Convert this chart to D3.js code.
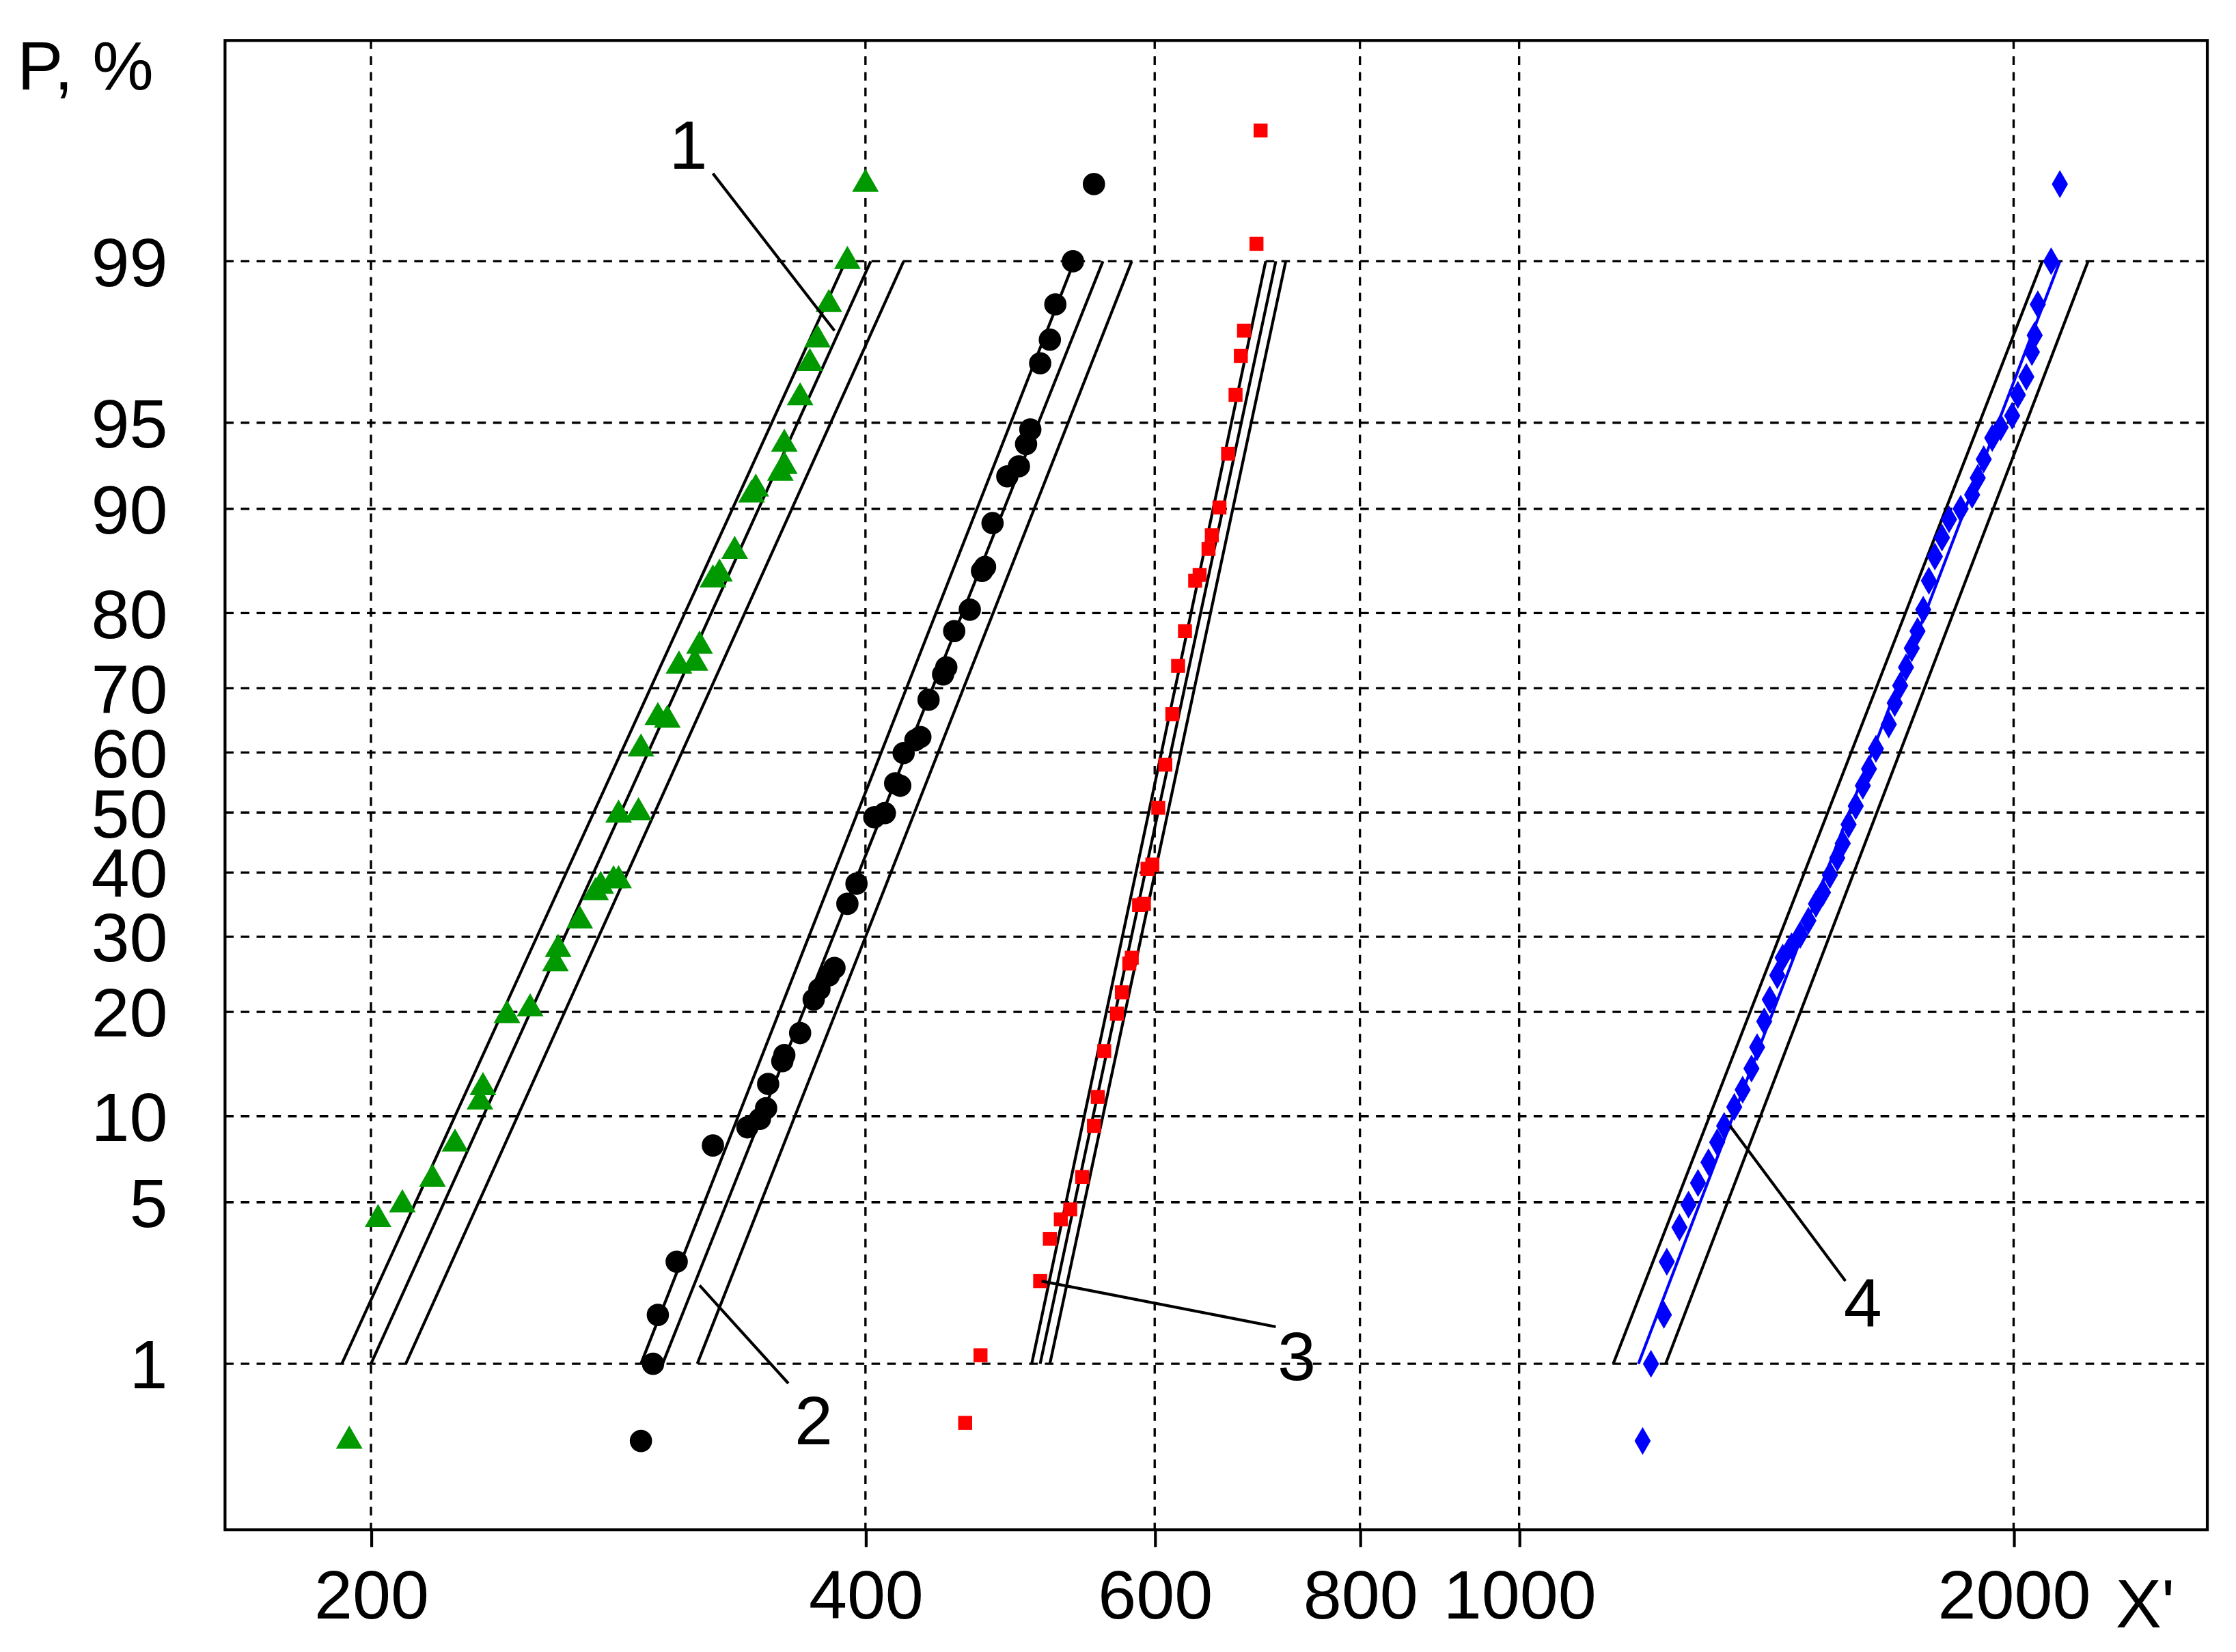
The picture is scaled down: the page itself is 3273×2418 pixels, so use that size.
<!DOCTYPE html>
<html>
<head>
<meta charset="utf-8">
<script src="https://cdn.jsdelivr.net/npm/d3@7"></script>
<style>
  html, body { margin: 0; padding: 0; background: #fff; }
  text { font-family: "Liberation Sans", Arial, sans-serif; fill: #000; }
</style>
</head>
<body>
<div id="chart"></div>
<script>
// probability ticks (%) and x ticks
const probTicks = [1, 5, 10, 20, 30, 40, 50, 60, 70, 80, 90, 95, 99]
const xTicks = [200, 400, 600, 800, 1000, 2000]

// series 1 (green triangles)
const s1X = [194, 202, 209, 218, 225, 233, 234, 242, 250, 259, 260, 268, 274, 276, 281, 283, 283, 291, 292, 299, 303, 308, 315, 317, 323, 326, 333, 341, 343, 355, 357, 357, 365, 370, 374, 380, 390, 400]
const s1P = [0.4, 4.3, 4.9, 6.1, 8.1, 11.1, 12.3, 19.6, 20.4, 26.2, 28.2, 32.4, 36.8, 37.8, 38.7, 38.7, 49.6, 50, 60.6, 65.6, 65.2, 73.2, 73.6, 75.9, 83.7, 84.3, 86.5, 91.0, 91.4, 92.4, 92.8, 94.0, 96.0, 97.1, 97.7, 98.4, 99.0, 99.6]
// series 2 (black circles)
const s2X = [292, 297, 299, 307, 323, 339, 345, 348, 349, 356, 357, 365, 372, 375, 380, 383, 390, 395, 405, 411, 417, 420, 422, 429, 432, 437, 446, 448, 453, 463, 471, 473, 478, 488, 496, 501, 504, 511, 518, 522, 535, 551]
const s2P = [0.4, 1.0, 1.7, 2.9, 8.0, 9.2, 9.8, 10.6, 12.6, 14.7, 15.3, 17.6, 21.5, 22.8, 24.6, 25.6, 35.0, 38.2, 49.2, 49.9, 54.9, 54.5, 59.9, 62.0, 62.5, 68.3, 72.0, 73.0, 77.8, 80.4, 84.6, 85.0, 88.9, 92.2, 92.8, 94.0, 94.7, 97.1, 97.7, 98.4, 99.0, 99.6]
// series 3 (red squares)
const s3X = [460, 470, 511, 518, 526, 533, 542, 551, 554, 559, 569, 573, 579, 581, 587, 591, 594, 598, 603, 609, 615, 620, 626, 635, 639, 647, 650, 657, 665, 672, 677, 680, 692, 696]
const s3P = [0.5, 1.1, 2.4, 3.6, 4.3, 4.7, 6.2, 9.3, 11.5, 15.7, 19.8, 22.4, 26.2, 27.0, 34.8, 35.0, 40.6, 41.3, 50.8, 58.0, 66.1, 73.2, 77.8, 83.6, 84.2, 86.7, 87.9, 90.1, 93.5, 96.1, 97.3, 97.9, 99.18, 99.8]
// series 4 (blue diamonds)
const s4X = [1189, 1203, 1225, 1230, 1252, 1268, 1285, 1304, 1320, 1333, 1352, 1368, 1385, 1396, 1410, 1421, 1436, 1447, 1465, 1483, 1500, 1516, 1531, 1546, 1562, 1574, 1587, 1603, 1619, 1633, 1649, 1679, 1693, 1706, 1720, 1734, 1748, 1762, 1776, 1791, 1809, 1827, 1857, 1887, 1902, 1918, 1941, 1964, 1996, 2012, 2036, 2052, 2060, 2069, 2108, 2134]
const s4P = [0.4, 1.0, 1.7, 2.9, 4.0, 4.9, 5.9, 7.0, 8.2, 9.3, 10.7, 12.1, 14.0, 16.1, 18.9, 21.5, 24.6, 27.0, 28.6, 30.3, 32.4, 35.0, 36.8, 39.6, 42.4, 44.8, 48.0, 51.1, 54.5, 57.3, 60.6, 64.5, 67.8, 70.4, 73.0, 75.6, 77.8, 80.4, 83.6, 86.0, 87.7, 89.2, 90.0, 91.0, 92.1, 93.2, 94.3, 94.8, 95.3, 96.1, 96.7, 97.4, 97.8, 98.4, 99.0, 99.6]

// fitted lines and bounds: X at P=1% and P=99% [lower bound, fit, upper bound]
const linesLow = [[192, 200, 210], [292, 301, 316], [505, 511, 518], [1141, 1182, 1228]]
const linesHigh = [[389, 403, 422], [536, 558, 581], [701, 711, 721], [2082, 2134, 2220]]
const lineP = [1, 99]
const curveLabels = ['1', '2', '3', '4']

// inverse normal (Acklam)
function probit(p) {
    const a = [-39.6968302866538, 220.946098424521, -275.928510446969, 138.357751867269, -30.6647980661472, 2.50662827745924]
    const b = [-54.4760987982241, 161.585836858041, -155.698979859887, 66.8013118877197, -13.2806815528857]
    const c = [-0.00778489400243029, -0.322396458041136, -2.40075827716184, -2.54973253934373, 4.37466414146497, 2.93816398269878]
    const d = [0.00778469570904146, 0.32246712907004, 2.445134137143, 3.75440866190742]
    const pl = 0.02425
    let q, r
    if (p < pl) {
        q = Math.sqrt(-2 * Math.log(p))
        return (((((c[0]*q+c[1])*q+c[2])*q+c[3])*q+c[4])*q+c[5]) / ((((d[0]*q+d[1])*q+d[2])*q+d[3])*q+1)
    }
    if (p > 1 - pl) {
        q = Math.sqrt(-2 * Math.log(1 - p))
        return -(((((c[0]*q+c[1])*q+c[2])*q+c[3])*q+c[4])*q+c[5]) / ((((d[0]*q+d[1])*q+d[2])*q+d[3])*q+1)
    }
    q = p - 0.5
    r = q * q
    return (((((a[0]*r+a[1])*r+a[2])*r+a[3])*r+a[4])*r+a[5])*q / (((((b[0]*r+b[1])*r+b[2])*r+b[3])*r+b[4])*r+1)
}

const L = 157, T = 28, R = 1540, B = 1067
const x = d3.scaleLog().domain([163, 2624]).range([L, R])
const z = d3.scaleLinear().domain([-3.027, 3.258]).range([B, T])
const y = p => z(probit(p / 100))

const svg = d3.select('#chart').append('svg')
    .attr('width', 3273).attr('height', 2418)
    .attr('viewBox', '0 0 1560 1152')

// grid
svg.append('g').selectAll('line').data(xTicks).enter().append('line')
    .attr('x1', d => x(d)).attr('x2', d => x(d)).attr('y1', T).attr('y2', B)
    .attr('stroke', '#000').attr('stroke-width', 1.6).attr('stroke-dasharray', '6,5')
svg.append('g').selectAll('line').data(probTicks).enter().append('line')
    .attr('x1', L).attr('x2', R).attr('y1', d => y(d)).attr('y2', d => y(d))
    .attr('stroke', '#000').attr('stroke-width', 1.6).attr('stroke-dasharray', '6,5')

// frame
svg.append('rect').attr('x', L).attr('y', T).attr('width', R - L).attr('height', B - T)
    .attr('fill', 'none').attr('stroke', '#000').attr('stroke-width', 2)

// axes
const xAxis = d3.axisBottom(x).tickValues(xTicks).tickFormat(d3.format('d')).tickSize(12).tickPadding(16)
const gx = svg.append('g').attr('transform', `translate(0,${B})`).call(xAxis)
gx.select('.domain').remove()
gx.selectAll('line').attr('stroke-width', 2)
gx.selectAll('text').style('font-size', '48px')

svg.append('g').selectAll('text').data(probTicks).enter().append('text')
    .attr('x', 117).attr('y', d => y(d)).attr('dy', '0.36em')
    .attr('text-anchor', 'end').style('font-size', '48px').text(d => d)

svg.append('text').attr('x', 12).attr('y', 62).style('font-size', '48px').text('P, %')
svg.append('text').attr('x', 1476).attr('y', 1135).style('font-size', '48px').text("X'")

// fitted lines
linesLow.forEach((lo, i) => {
    lo.forEach((v, j) => {
        svg.append('line')
            .attr('x1', x(v)).attr('y1', y(lineP[0]))
            .attr('x2', x(linesHigh[i][j])).attr('y2', y(lineP[1]))
            .attr('stroke', i === 3 && j === 1 ? '#0000ff' : '#000')
            .attr('stroke-width', 2)
    })
})

// markers
const series = [
    { xs: s1X, ps: s1P, sym: d3.symbolTriangle, size: 150, color: '#009900' },
    { xs: s2X, ps: s2P, sym: d3.symbolCircle, size: 190, color: '#000' },
    { xs: s3X, ps: s3P, sym: d3.symbolSquare, size: 95, color: '#ff0000' },
    { xs: s4X, ps: s4P, sym: d3.symbolDiamond, size: 110, color: '#0000ff' }
]
series.forEach(s => {
    svg.append('g').selectAll('path').data(s.xs).enter().append('path')
        .attr('d', d3.symbol().type(s.sym).size(s.size))
        .attr('transform', (d, i) => `translate(${x(d)},${y(s.ps[i])})`)
        .attr('fill', s.color)
})

// curve labels with leaders: [X, P]
const labelAt = [[312, 99.76], [372, 0.52], [732, 1.1], [1619, 1.94]]
const leaderFrom = [[323, 99.65], [359, 0.8], [711, 1.5], [1580, 2.4]]
const leaderTo = [[383, 97.9], [317, 2.3], [512, 2.4], [1344, 9.3]]
curveLabels.forEach((t, i) => {
    svg.append('line')
        .attr('x1', x(leaderFrom[i][0])).attr('y1', y(leaderFrom[i][1]))
        .attr('x2', x(leaderTo[i][0])).attr('y2', y(leaderTo[i][1]))
        .attr('stroke', '#000').attr('stroke-width', 2)
    svg.append('text').attr('x', x(labelAt[i][0])).attr('y', y(labelAt[i][1]))
        .attr('text-anchor', 'middle').attr('dy', '0.36em')
        .style('font-size', '48px').text(t)
})
</script>
</body>
</html>
